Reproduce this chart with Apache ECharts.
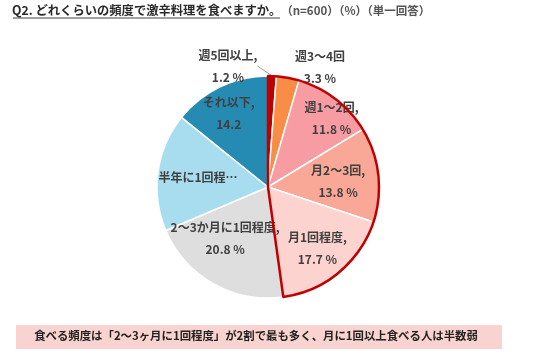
<!DOCTYPE html>
<html><head><meta charset="utf-8">
<script src="https://cdn.jsdelivr.net/npm/echarts@6/dist/echarts.min.js"></script>
<style>html,body{margin:0;padding:0;background:#fff}#c{width:536px;height:356px}</style>
</head><body><div id="c"></div>
<script>
const categories = ['週5回以上','週3〜4回','週1〜2回','月2〜3回','月1回程度','2〜3か月に1回程度','半年に1回程度','それ以下'];
const values = [1.2, 3.3, 11.8, 13.8, 17.7, 20.8, 17.2, 14.2];
const labelTexts = ['週5回以上,\n1.2 %','週3〜4回\n3.3 %','週1〜2回,\n11.8 %','月2〜3回,\n13.8 %','月1回程度,\n17.7 %','2〜3か月に1回程度,\n20.8 %','半年に1回程…','それ以下,\n14.2'];
const highlightGroup = [47.8, 52.2];
const titleMain = 'Q2. どれくらいの頻度で激辛料理を食べますか。';
const titleSub = '（n=600）（%）（単一回答）';
const conclusion = '食べる頻度は「2〜3ヶ月に1回程度」が2割で最も多く、月に1回以上食べる人は半数弱';

const colors = ['#C00000','#F98D45','#F89CA3','#F9A796','#FCD3CF','#DEDEDE','#A8DDF0','#268BB3'];
const shifts = [[0,0],[0,0],[28,-22],[12,1],[12,16],[-14,1],[-12,-2],[-14,-21]];
const chart = echarts.init(document.getElementById('c'));
const data = categories.map((c,i)=>{
  const item = {name:c, value:values[i], itemStyle:{color:colors[i]}, label:{formatter:labelTexts[i]}};
  if(i===0){ item.label.position='outside'; item.labelLine={show:true,length:6,length2:0,lineStyle:{color:'#999',width:1}}; }
  if(i===1){ item.label.position='outside'; item.labelLine={show:false,length:4,length2:0}; }
  return item;
});
chart.setOption({
  animation:false,
  title:[
    {text:'{a|'+titleMain+'}{b|'+titleSub+'}', left:12, top:4, padding:0,
     textStyle:{rich:{a:{fontFamily:'Noto Sans CJK JP',fontSize:12.3,fontWeight:'bold',color:'#2a2a2a'},
                      b:{fontFamily:'Noto Sans CJK JP',fontSize:11.5,color:'#555'}}}},
    {text:conclusion, left:256, textAlign:'center', top:330, padding:0,
     textStyle:{fontFamily:'Noto Sans CJK JP',fontSize:11.4,fontWeight:'bold',color:'#222'}}
  ],
  graphic:[
    {type:'rect', shape:{x:16,y:325,width:486,height:24}, style:{fill:'#F9D3CF'}, z:-1},
    {type:'line', shape:{x1:13,y1:18,x2:280,y2:18}, style:{stroke:'#444',lineWidth:1}}
  ],
  series:[
    {type:'pie', center:[268,187], radius:[0,111], startAngle:90, clockwise:true, data:data,
     itemStyle:{borderColor:'#fff',borderWidth:1.5},
     label:{position:'inside', fontFamily:'Noto Sans CJK JP', fontSize:12, fontWeight:'bold', color:'#404040', lineHeight:22},
     labelLayout:function(p){
       const i=p.dataIndex;
       if(i===0) return {x:228, y:66, align:'center', verticalAlign:'middle'};
       if(i===1) return {x:320, y:67, align:'center', verticalAlign:'middle'};
       return {dx:shifts[i][0], dy:shifts[i][1]};
     }
    },
    {type:'pie', center:[268,187], radius:[0,111], startAngle:90, clockwise:true, silent:true, z:5,
     label:{show:false}, labelLine:{show:false},
     data:[{value:highlightGroup[0], itemStyle:{color:'rgba(0,0,0,0)', borderColor:'#C00000', borderWidth:2.5}},
           {value:highlightGroup[1], itemStyle:{color:'rgba(0,0,0,0)', borderWidth:0}}]}
  ]
});
</script></body></html>
